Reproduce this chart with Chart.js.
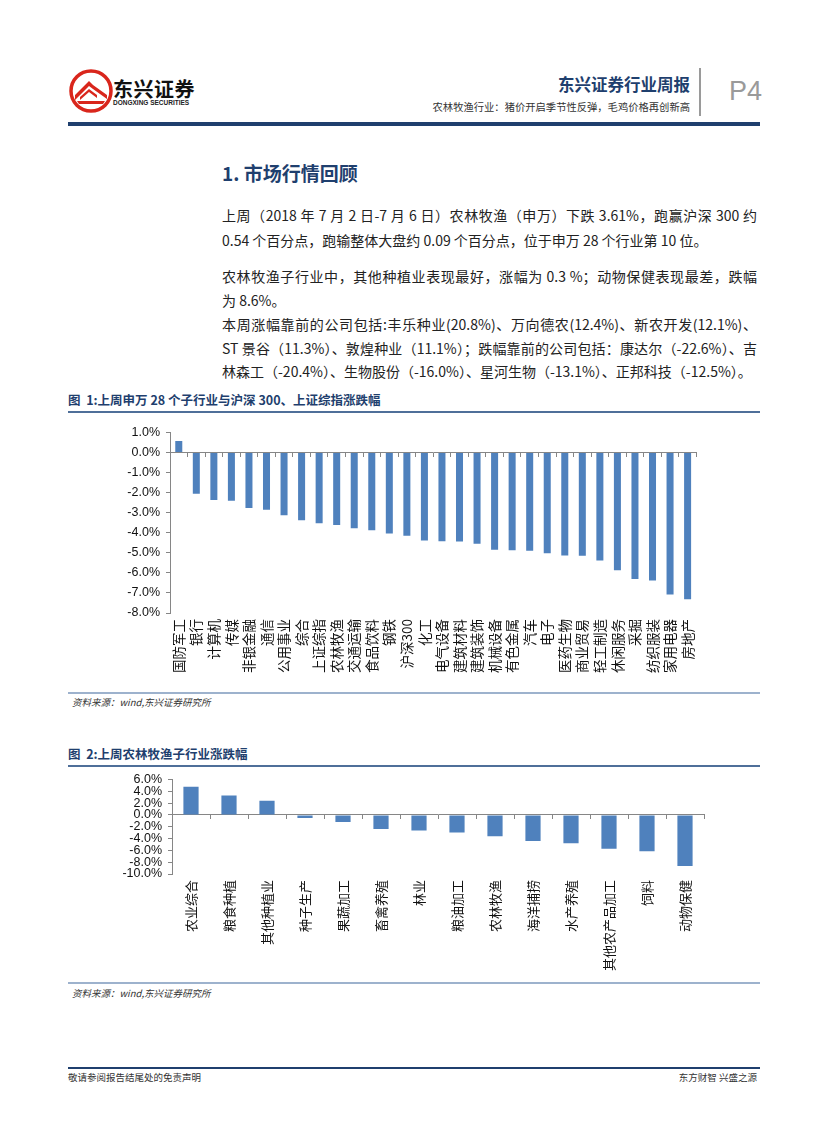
<!DOCTYPE html>
<html lang="zh-CN">
<head>
<meta charset="UTF-8">
<title>东兴证券行业周报 P4</title>
<script src="https://cdn.jsdelivr.net/npm/chart.js"></script>
<style>
    body {
        margin: 0;
        background: #fff;
        font-family: 'Noto Sans CJK SC', sans-serif;
        color: #222;
    }
    #page {
        position: relative;
        width: 827px;
        height: 1122px;
        overflow: hidden;
    }
    .abs { position: absolute; white-space: nowrap; }
    .brand { left: 113px; top: 74px; font-size: 20px; font-weight: bold; color: #111; letter-spacing: 0.5px; }
    .brand-en { left: 113px; top: 99px; font-family: 'Liberation Sans', sans-serif; font-size: 6.5px; font-weight: bold; color: #222; }
    .report { right: 137px; top: 72px; font-size: 16.5px; font-weight: bold; color: #1f3f6e; }
    .subtitle { right: 137px; top: 99px; font-size: 10.3px; color: #333; }
    .divider { left: 699px; top: 68px; width: 1.5px; height: 48px; background: #9a9a9a; }
    .pageno { left: 729px; top: 76px; font-family: 'Liberation Sans', sans-serif; font-size: 27px; color: #9a9a9a; }
    .rule-top { left: 68px; top: 122px; width: 692px; height: 4px; background: #1f3f6e; }
    .heading { left: 222px; top: 159px; font-size: 19px; font-weight: bold; color: #1f3f6e; }
    .line { position: absolute; left: 222px; width: 535px; font-size: 14px; line-height: 20px; white-space: nowrap; }
    .full { text-align: justify; text-align-last: justify; white-space: normal; height: 20px; overflow: visible; }
    .caption { left: 68px; font-size: 12.5px; font-weight: bold; color: #1f3f6e; }
    .rule-thin { left: 68px; width: 692px; height: 1.5px; background: #4f6f99; }
    .rule-light { left: 68px; width: 692px; height: 2px; background: #9db2cd; }
    .source { left: 72px; font-size: 9.5px; font-style: italic; color: #333; }
    .rule-foot { left: 68px; top: 1067px; width: 692px; height: 1.5px; background: #1f3f6e; }
    .foot { top: 1070px; font-size: 9.5px; color: #333; }
    canvas { position: absolute; }
</style>
</head>
<body>
<div id="page">
    <svg class="abs" style="left:69px;top:69px" width="44" height="44" viewBox="0 0 44 44">
        <circle cx="22" cy="22" r="20" fill="#fff" stroke="#d9261c" stroke-width="3.5"/>
        <path d="M6 26 L20 12 L24 16 L38 26 L38 30 L24 20 L20 17 L6 31 Z" fill="#d9261c"/>
        <path d="M8 32 L36 32 L34 35 L10 35 Z" fill="#d9261c"/>
        <path d="M11 28 L20 20 L28 26 L28 29 L20 23 L11 31 Z" fill="#d9261c"/>
    </svg>
    <div class="abs brand">东兴证券</div>
    <div class="abs brand-en">DONGXING SECURITIES</div>
    <div class="abs report">东兴证券行业周报</div>
    <div class="abs subtitle">农林牧渔行业：猪价开启季节性反弹，毛鸡价格再创新高</div>
    <div class="abs divider"></div>
    <div class="abs pageno">P4</div>
    <div class="abs rule-top"></div>

    <div class="abs heading">1. 市场行情回顾</div>

    <div class="line full" style="top:205px">上周（2018 年 7 月 2 日-7 月 6 日）农林牧渔（申万）下跌 3.61%，跑赢沪深 300 约</div>
    <div class="line" style="top:230px">0.54 个百分点，跑输整体大盘约 0.09 个百分点，位于申万 28 个行业第 10 位。</div>
    <div class="line full" style="top:266px">农林牧渔子行业中，其他种植业表现最好，涨幅为 0.3 %；动物保健表现最差，跌幅</div>
    <div class="line" style="top:290px">为 8.6%。</div>
    <div class="line full" style="top:314px">本周涨幅靠前的公司包括:丰乐种业(20.8%)、万向德农(12.4%)、新农开发(12.1%)、</div>
    <div class="line full" style="top:338px">ST 景谷（11.3%）、敦煌种业（11.1%）；跌幅靠前的公司包括：康达尔（-22.6%）、吉</div>
    <div class="line" style="top:361px">林森工（-20.4%）、生物股份（-16.0%）、星河生物（-13.1%）、正邦科技（-12.5%）。</div>

    <div class="abs caption" style="top:390px">图 &nbsp;1:上周申万 28 个子行业与沪深 300、上证综指涨跌幅</div>
    <div class="abs rule-thin" style="top:411px"></div>
    <canvas id="industryChart" style="left:100px;top:419px" width="610" height="274"></canvas>
    <div class="abs rule-light" style="top:692px"></div>
    <div class="abs source" style="top:695px">资料来源：wind,东兴证券研究所</div>

    <div class="abs caption" style="top:744px">图 &nbsp;2:上周农林牧渔子行业涨跌幅</div>
    <div class="abs rule-thin" style="top:765px"></div>
    <canvas id="subChart" style="left:100px;top:766px" width="614" height="213"></canvas>
    <div class="abs rule-light" style="top:982px"></div>
    <div class="abs source" style="top:986px">资料来源：wind,东兴证券研究所</div>

    <div class="abs rule-foot"></div>
    <div class="abs foot" style="left:68px">敬请参阅报告结尾处的免责声明</div>
    <div class="abs foot" style="right:70px">东方财智 兴盛之源</div>
</div>

<script>
    // 图1：申万28个子行业 + 沪深300、上证综指 周涨跌幅 (%)
    const industryLabels = ['国防军工', '银行', '计算机', '传媒', '非银金融', '通信', '公用事业', '综合',
        '上证综指', '农林牧渔', '交通运输', '食品饮料', '钢铁', '沪深300', '化工', '电气设备', '建筑材料',
        '建筑装饰', '机械设备', '有色金属', '汽车', '电子', '医药生物', '商业贸易', '轻工制造', '休闲服务',
        '采掘', '纺织服装', '家用电器', '房地产'];
    const industryChanges = [0.58, -2.05, -2.37, -2.40, -2.77, -2.85, -3.12, -3.38,
        -3.52, -3.61, -3.78, -3.88, -4.03, -4.15, -4.38, -4.42, -4.43,
        -4.55, -4.85, -4.87, -4.90, -5.02, -5.13, -5.15, -5.38, -5.87,
        -6.30, -6.38, -7.08, -7.32];
    const industryTicks = { min: -8, max: 1, step: 1 };

    // 图2：农林牧渔子行业 周涨跌幅 (%)
    const subLabels = ['农业综合', '粮食种植', '其他种植业', '种子生产', '果蔬加工', '畜禽养殖', '林业',
        '粮油加工', '农林牧渔', '海洋捕捞', '水产养殖', '其他农产品加工', '饲料', '动物保健'];
    const subChanges = [4.78, 3.30, 2.42, -0.50, -1.20, -2.36, -2.64,
        -2.97, -3.61, -4.40, -4.78, -5.71, -6.15, -8.63];
    const subTicks = { min: -10, max: 6, step: 2 };

    const barColor = '#4f81bd';
    const axisColor = '#868686';
    const numFont = 'Liberation Sans, Arial, sans-serif';
    const cjkFont = 'Noto Sans CJK SC, sans-serif';

    function makeBarChart(id, labels, values, ticks, opts) {
        return new Chart(document.getElementById(id), {
            type: 'bar',
            data: {
                labels: labels,
                datasets: [{
                    data: values,
                    backgroundColor: barColor,
                    borderWidth: 0,
                    barPercentage: 0.5,
                    categoryPercentage: 0.8,
                    xAxisID: 'x',
                    yAxisID: 'y'
                }]
            },
            options: {
                responsive: false,
                animation: false,
                layout: { padding: { top: 10, right: opts.padRight, bottom: 0, left: 0 } },
                plugins: { legend: { display: false }, tooltip: { enabled: false } },
                scales: {
                    x: {
                        type: 'category',
                        position: 'bottom',
                        offset: true,
                        grid: { display: false, drawTicks: false },
                        border: { display: false },
                        ticks: {
                            autoSkip: false,
                            minRotation: 90,
                            maxRotation: 90,
                            padding: 6,
                            color: '#111',
                            font: { family: cjkFont, size: opts.labelSize }
                        },
                        afterFit: (scale) => { scale.height = opts.xHeight; }
                    },
                    x2: {
                        type: 'category',
                        position: { y: 0 },
                        offset: true,
                        grid: { offset: true, drawOnChartArea: false, tickLength: 4, color: axisColor },
                        border: { color: axisColor, width: 1 },
                        ticks: { display: false }
                    },
                    y: {
                        min: ticks.min,
                        max: ticks.max,
                        grid: { drawOnChartArea: false, tickLength: 4, color: axisColor },
                        border: { color: axisColor, width: 1 },
                        ticks: {
                            stepSize: ticks.step,
                            autoSkip: false,
                            padding: 6,
                            color: '#111',
                            font: { family: numFont, size: 12.5 },
                            callback: (v) => v.toFixed(1) + '%'
                        },
                        afterFit: (scale) => { scale.width = opts.yWidth; }
                    }
                }
            }
        });
    }

    makeBarChart('industryChart', industryLabels, industryChanges, industryTicks,
        { padRight: 12, xHeight: 80, yWidth: 70, labelSize: 13.5 });
    makeBarChart('subChart', subLabels, subChanges, subTicks,
        { padRight: 10, xHeight: 105, yWidth: 72, labelSize: 13 });
</script>
</body>
</html>
